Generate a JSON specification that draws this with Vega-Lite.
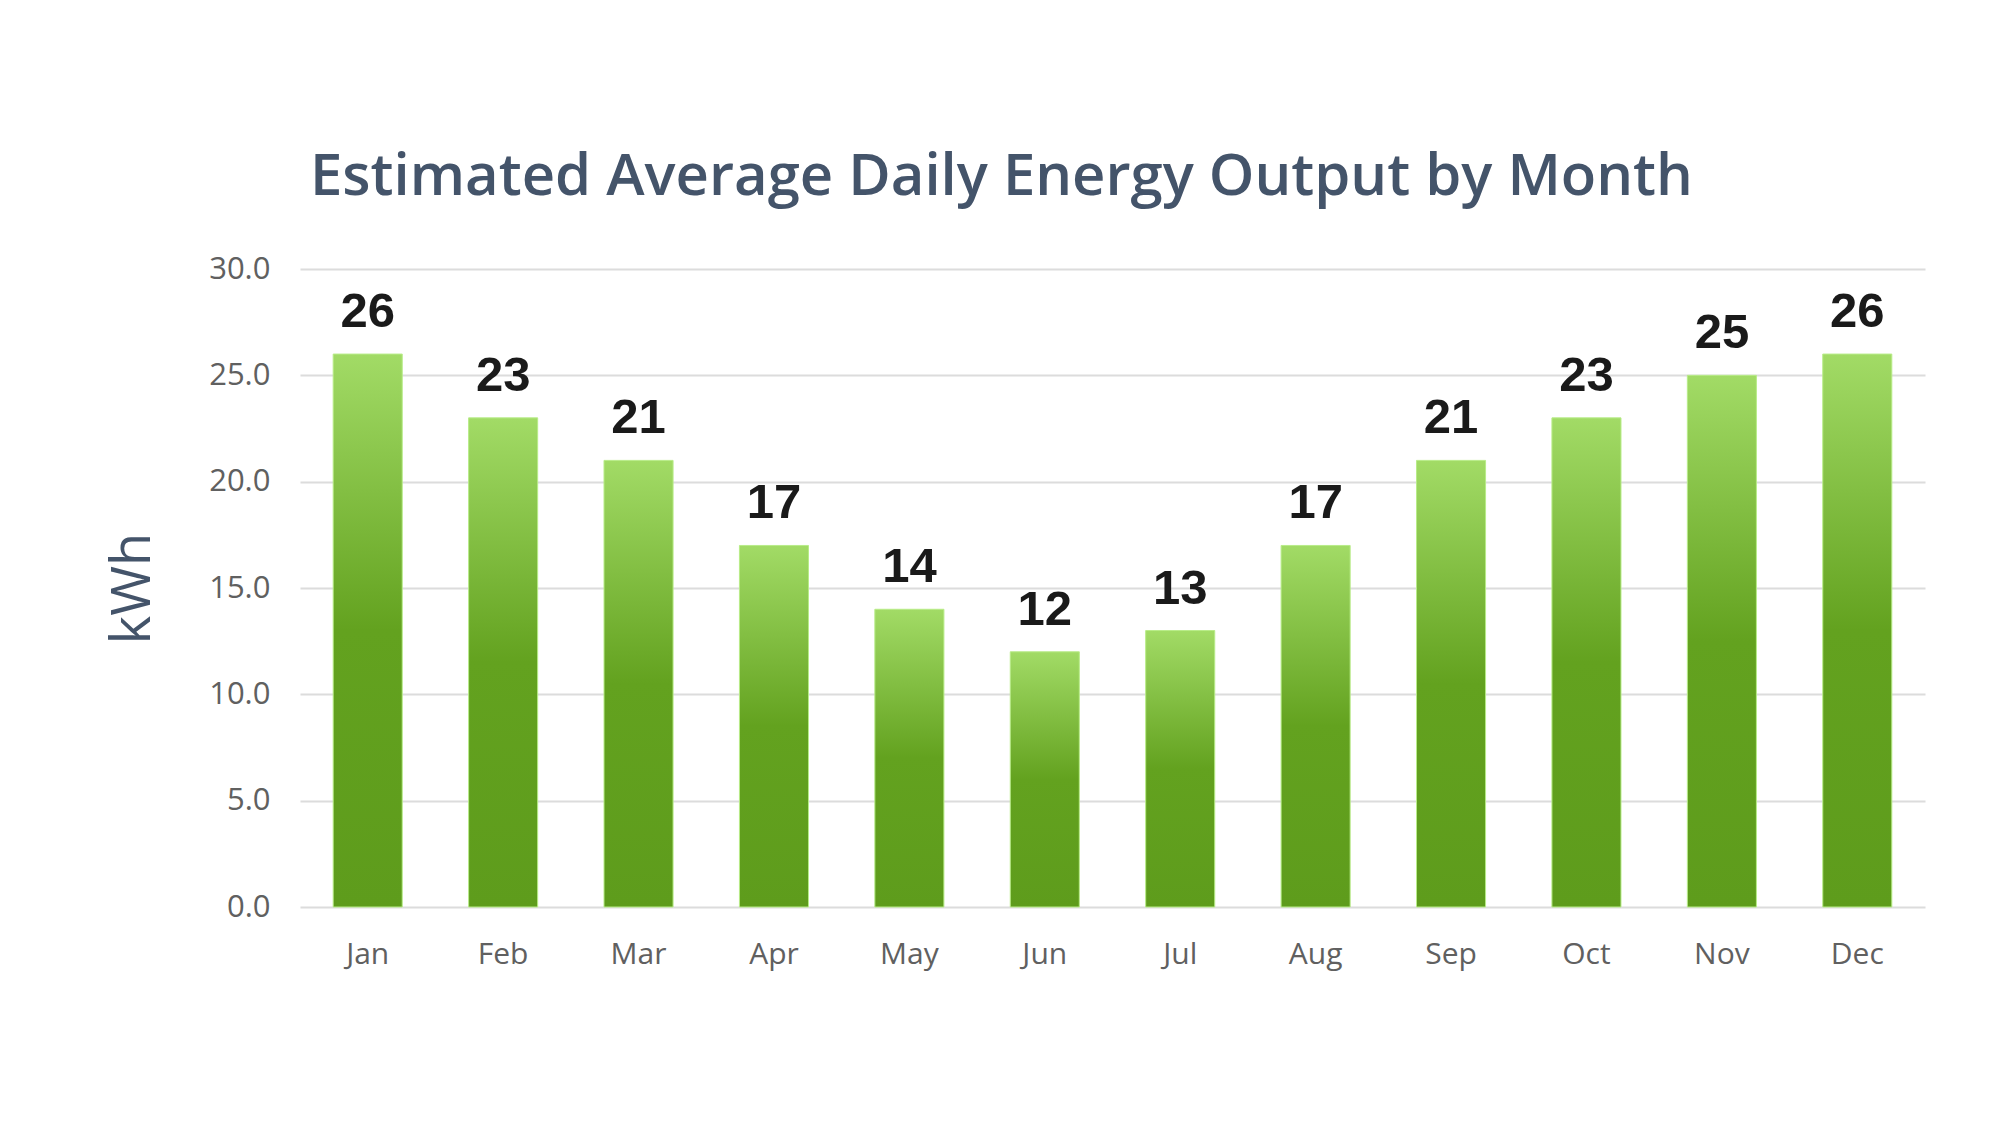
{
  "$schema": "https://vega.github.io/schema/vega-lite/v6.json",
  "autosize": {"type": "none"},
  "width": 1625,
  "height": 638,
  "padding": {"left": 300, "top": 269, "right": 75, "bottom": 218},
  "background": "white",
  "view": {"stroke": null},
  "title": {
    "text": "Estimated Average Daily Energy Output by Month",
    "anchor": "start",
    "frame": "group",
    "font": "Open Sans",
    "fontWeight": 600,
    "fontSize": 58,
    "color": "#44546a",
    "dx": 10,
    "offset": 46
  },
  "data": {
    "values": [
      {"month": "Jan", "kwh": 26},
      {"month": "Feb", "kwh": 23},
      {"month": "Mar", "kwh": 21},
      {"month": "Apr", "kwh": 17},
      {"month": "May", "kwh": 14},
      {"month": "Jun", "kwh": 12},
      {"month": "Jul", "kwh": 13},
      {"month": "Aug", "kwh": 17},
      {"month": "Sep", "kwh": 21},
      {"month": "Oct", "kwh": 23},
      {"month": "Nov", "kwh": 25},
      {"month": "Dec", "kwh": 26}
    ]
  },
  "encoding": {
    "x": {
      "field": "month",
      "type": "nominal",
      "sort": null,
      "scale": {"paddingInner": 0.49, "paddingOuter": 0.245},
      "axis": {
        "title": null,
        "labelAngle": 0,
        "labelFont": "Open Sans",
        "labelFontSize": 30,
        "labelColor": "#606060",
        "labelPadding": 32,
        "ticks": false,
        "domain": false,
        "grid": false
      }
    },
    "y": {
      "field": "kwh",
      "type": "quantitative",
      "scale": {"domain": [0, 30], "nice": false},
      "axis": {
        "title": "kWh",
        "titleFont": "Open Sans",
        "titleFontSize": 54,
        "titleFontWeight": 400,
        "titleColor": "#44546a",
        "titlePadding": 48,
        "values": [0, 5, 10, 15, 20, 25, 30],
        "format": ".1f",
        "labelFont": "Open Sans",
        "labelFontSize": 31,
        "labelColor": "#606060",
        "labelPadding": 30,
        "ticks": false,
        "domain": false,
        "grid": true,
        "gridColor": "#dcdcdc",
        "gridWidth": 2
      }
    }
  },
  "layer": [
    {
      "mark": {
        "type": "bar",
        "stroke": "#b8ec88",
        "strokeWidth": 1,
        "fill": {
          "gradient": "linear",
          "x1": 0, "y1": 0, "x2": 0, "y2": 1,
          "stops": [
            {"offset": 0, "color": "#a2db66"},
            {"offset": 0.5, "color": "#63a21f"},
            {"offset": 1, "color": "#5e9c1c"}
          ]
        }
      }
    },
    {
      "mark": {
        "type": "text",
        "font": "Liberation Sans",
        "fontWeight": "bold",
        "fontSize": 49,
        "color": "#1a1a1a",
        "baseline": "alphabetic",
        "dy": -27
      },
      "encoding": {
        "text": {"field": "kwh", "type": "quantitative"}
      }
    }
  ]
}
